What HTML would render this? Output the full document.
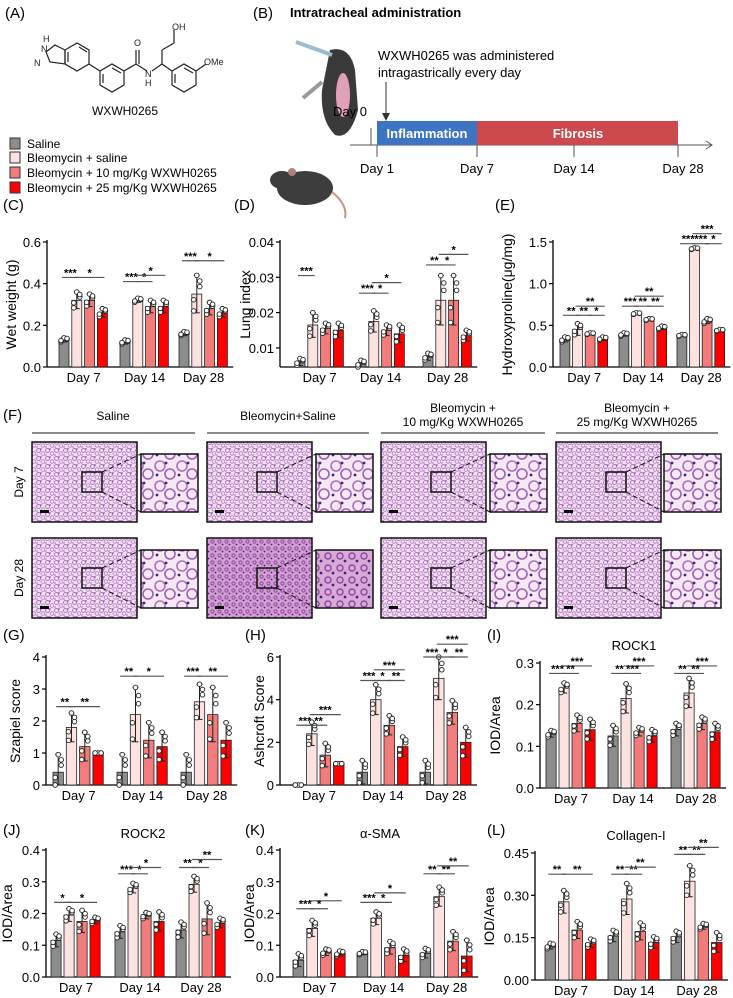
<!DOCTYPE html>
<html><head><meta charset="utf-8"><style>
html,body{margin:0;padding:0;background:#fff;}
svg{display:block;font-family:"Liberation Sans",sans-serif;}
</style></head><body>
<svg id="fig" width="733" height="998" viewBox="0 0 733 998" xmlns="http://www.w3.org/2000/svg">
<defs>
<pattern id="tis" width="9" height="8" patternUnits="userSpaceOnUse">
<rect width="9" height="8" fill="#f2e0f0"/>
<circle cx="2.5" cy="2.5" r="2" fill="none" stroke="#b070c0" stroke-width="0.9"/>
<circle cx="7" cy="5.5" r="1.8" fill="none" stroke="#c080c8" stroke-width="0.9"/>
<circle cx="5" cy="1" r="0.7" fill="#5030a0"/><circle cx="1" cy="7" r="0.6" fill="#5030a0"/>
</pattern>
<pattern id="tisd" width="7" height="7" patternUnits="userSpaceOnUse">
<rect width="7" height="7" fill="#d49ed2"/>
<circle cx="2.5" cy="2.5" r="1.6" fill="none" stroke="#8a4aa0" stroke-width="1"/>
<circle cx="5.5" cy="5.5" r="0.9" fill="#402080"/>
</pattern>
<pattern id="tisz" width="22" height="20" patternUnits="userSpaceOnUse">
<rect width="22" height="20" fill="#f6e8f4"/>
<circle cx="6" cy="6" r="5" fill="none" stroke="#b070c0" stroke-width="1.6"/>
<circle cx="16" cy="14" r="5" fill="none" stroke="#a060b8" stroke-width="1.6"/>
<circle cx="12" cy="3" r="1.4" fill="#402080"/><circle cx="3" cy="15" r="1.4" fill="#402080"/>
</pattern>
<pattern id="tiszd" width="12" height="12" patternUnits="userSpaceOnUse">
<rect width="12" height="12" fill="#d8a8d6"/>
<circle cx="4" cy="4" r="3" fill="none" stroke="#8a4aa0" stroke-width="1.4"/>
<circle cx="9" cy="9" r="1.4" fill="#402080"/>
</pattern>
</defs>
<g id="static">
<!-- (A) -->
<text x="5" y="18" font-size="15">(A)</text>
<g stroke="#222" stroke-width="1.2" fill="none">
<polygon points="65,50 77,43 89,50 89,64 77,71 65,64"/>
<line x1="68" y1="52" x2="68" y2="62"/><line x1="79" y1="47" x2="87" y2="52"/>
<polygon points="65,50 55,45 46,52 50,62 65,64" />
<line x1="89" y1="64" x2="100" y2="71"/>
<polygon points="100,71 112,64 124,71 124,85 112,92 100,85"/>
<line x1="103" y1="74" x2="103" y2="83"/><line x1="112" y1="68" x2="121" y2="73"/>
<line x1="124" y1="71" x2="136" y2="64"/><line x1="136" y1="64" x2="136" y2="50"/><line x1="139" y1="64" x2="139" y2="50"/>
<line x1="136" y1="64" x2="147" y2="71"/><line x1="152" y1="71" x2="162" y2="64"/>
<line x1="162" y1="64" x2="162" y2="50"/><line x1="162" y1="50" x2="174" y2="43"/><line x1="174" y1="43" x2="174" y2="30"/>
<line x1="162" y1="64" x2="172" y2="71"/>
<polygon points="172,71 184,64 196,71 196,85 184,92 172,85"/>
<line x1="175" y1="74" x2="175" y2="83"/><line x1="184" y1="68" x2="193" y2="73"/>
<line x1="196" y1="71" x2="206" y2="64"/>
</g>
<g font-size="9" fill="#222">
<text x="43" y="42">H</text><text x="41" y="52">N</text><text x="34" y="66">N</text>
<text x="134" y="46">O</text><text x="145" y="77">N</text><text x="145" y="86">H</text>
<text x="172" y="30">OH</text><text x="204" y="65">OMe</text>
</g>
<text x="125" y="115" font-size="12" text-anchor="middle">WXWH0265</text>
<g font-size="12">
<rect x="10" y="138" width="10" height="11" fill="#8c8c8c" stroke="#333"/>
<text x="27" y="148">Saline</text>
<rect x="10" y="152" width="10" height="11" fill="#fde2e2" stroke="#333"/>
<text x="27" y="162">Bleomycin + saline</text>
<rect x="10" y="167" width="10" height="11" fill="#f27c7c" stroke="#333"/>
<text x="27" y="177">Bleomycin + 10 mg/Kg WXWH0265</text>
<rect x="10" y="182" width="10" height="11" fill="#ff0000" stroke="#333"/>
<text x="27" y="192">Bleomycin + 25 mg/Kg WXWH0265</text>
</g>
<!-- (B) -->
<text x="253" y="18" font-size="15">(B)</text>
<text x="290" y="17" font-size="13" font-weight="bold">Intratracheal administration</text>
<g>
<path d="M330 50 Q350 45 355 70 L358 110 Q350 140 335 135 Q320 120 322 90 Z" fill="#3a3a3a"/>
<ellipse cx="343" cy="95" rx="7" ry="22" fill="#e0a0b8"/>
<line x1="296" y1="42" x2="332" y2="55" stroke="#9bbccc" stroke-width="4"/>
<line x1="303" y1="98" x2="322" y2="82" stroke="#999" stroke-width="4"/>
</g>
<g>
<ellipse cx="305" cy="188" rx="28" ry="17" fill="#3d3d3d"/>
<ellipse cx="282" cy="180" rx="12" ry="9" fill="#3d3d3d"/>
<ellipse cx="292" cy="172" rx="4" ry="4" fill="#b08080"/>
<path d="M332 192 Q348 205 345 218" stroke="#c89080" stroke-width="2" fill="none"/>
</g>
<text x="378" y="60" font-size="13">WXWH0265 was administered</text>
<text x="378" y="77" font-size="13">intragastrically every day</text>
<line x1="386" y1="82" x2="386" y2="118" stroke="#333"/><polygon points="382,113 390,113 386,121" fill="#333"/>
<text x="333" y="116" font-size="13">Day 0</text>
<line x1="350" y1="145" x2="712" y2="145" stroke="#555"/><polyline points="706,141 712,145 706,149" fill="none" stroke="#555"/>
<line x1="371" y1="128" x2="371" y2="145" stroke="#555"/>
<rect x="377" y="121" width="100" height="24" fill="#3f74c4"/>
<rect x="477" y="121" width="201" height="24" fill="#cc4a4d"/>
<text x="427" y="138" font-size="13" font-weight="bold" fill="#fff" text-anchor="middle">Inflammation</text>
<text x="578" y="138" font-size="13" font-weight="bold" fill="#fff" text-anchor="middle">Fibrosis</text>
<g stroke="#555"><line x1="377" y1="145" x2="377" y2="157"/><line x1="477" y1="145" x2="477" y2="157"/><line x1="574" y1="145" x2="574" y2="157"/><line x1="678" y1="145" x2="678" y2="157"/></g>
<g font-size="13" text-anchor="middle"><text x="377" y="173">Day 1</text><text x="477" y="173">Day 7</text><text x="574" y="173">Day 14</text><text x="683" y="173">Day 28</text></g>
<!-- (F) -->
<text x="3" y="420" font-size="15">(F)</text>
<g font-size="12" text-anchor="middle">
<text x="113" y="420">Saline</text><text x="288" y="420">Bleomycin+Saline</text>
<text x="463" y="412">Bleomycin +</text><text x="463" y="426">10 mg/Kg WXWH0265</text>
<text x="637" y="412">Bleomycin +</text><text x="637" y="426">25 mg/Kg WXWH0265</text>
</g>
<g stroke="#444" stroke-width="1.3"><line x1="32" y1="433" x2="195" y2="433"/><line x1="207" y1="433" x2="369" y2="433"/><line x1="381" y1="433" x2="545" y2="433"/><line x1="556" y1="433" x2="718" y2="433"/></g>
<text transform="translate(23,482) rotate(-90)" font-size="12" text-anchor="middle">Day 7</text>
<text transform="translate(23,578) rotate(-90)" font-size="12" text-anchor="middle">Day 28</text>
<g id="histo"></g>
</g>
<g id="charts"></g>
</svg>
<script>
const NS="http://www.w3.org/2000/svg";
const COLORS=["#8c8c8c","#fde2e2","#f27c7c","#ff0000"];
const DAYS=["Day 7","Day 14","Day 28"];
function mk(tag,attrs,parent,txt){const e=document.createElementNS(NS,tag);for(const k in attrs)e.setAttribute(k,attrs[k]);if(txt!==undefined)e.textContent=txt;parent.appendChild(e);return e;}

// histology
const histo=document.getElementById('histo');
const hcols=[[32,141],[207,316],[381,490],[556,664]];
const hrows=[[442,454],[538,550]];
hrows.forEach((r,ri)=>hcols.forEach((c,ci)=>{
  const dark=(ri===1&&ci===1);
  const big=mk('rect',{x:c[0],y:r[0],width:105,height:80,fill:dark?'url(#tisd)':'url(#tis)',stroke:'#111','stroke-width':1.5},histo);
  
  
  const bx=c[0]+50,by=r[0]+30;
  mk('rect',{x:bx,y:by,width:20,height:20,fill:'none',stroke:'#111','stroke-width':1.5},histo);
  mk('line',{x1:bx+20,y1:by,x2:c[1],y2:r[1],stroke:'#111','stroke-dasharray':'5,3'},histo);
  mk('line',{x1:bx+20,y1:by+20,x2:c[1],y2:r[1]+58,stroke:'#111','stroke-dasharray':'5,3'},histo);
  const ins=mk('rect',{x:c[1],y:r[1],width:57,height:58,fill:dark?'url(#tiszd)':'url(#tisz)',stroke:'#111','stroke-width':1.5},histo);
  
  
  mk('rect',{x:c[0]+8,y:r[0]+68,width:9,height:3,fill:'#000'},histo);
}));

// ---- chart data ----
const C_mean=[[0.13,0.32,0.32,0.26],[0.12,0.32,0.29,0.29],[0.16,0.35,0.28,0.26]];
const C_sd=[[0.01,0.04,0.03,0.02],[0.01,0.01,0.03,0.03],[0.01,0.09,0.03,0.02]];
const C_ticks=[0,0.2,0.4,0.6];
const C_sig=[[0,0,1,0.43,"***"],[0,1,3,0.43,"*"],[1,0,1,0.41,"***"],[1,1,2,0.41,"*"],[1,1,3,0.44,"*"],[2,0,1,0.51,"***"],[2,1,3,0.51,"*"]];
const D_mean=[[0.006,0.0165,0.0155,0.015],[0.0055,0.0175,0.015,0.014],[0.0075,0.0235,0.0235,0.0135]];
const D_sd=[[0.001,0.0035,0.0015,0.002],[0.001,0.003,0.0015,0.0025],[0.001,0.007,0.007,0.0015]];
const D_ticks=[0.01,0.02,0.03,0.04];
const D_sig=[[0,0,1,0.0305,"***"],[1,0,1,0.0255,"***"],[1,1,2,0.0255,"*"],[1,1,3,0.0285,"*"],[2,0,1,0.0335,"**"],[2,1,2,0.0335,"*"],[2,1,3,0.0365,"*"]];
const E_mean=[[0.33,0.45,0.40,0.34],[0.39,0.64,0.57,0.47],[0.38,1.42,0.55,0.44]];
const E_sd=[[0.03,0.07,0.01,0.02],[0.02,0.01,0.01,0.02],[0.01,0.01,0.03,0.01]];
const E_ticks=[0,0.5,1.0,1.5];
const E_sig=[[0,0,1,0.62,"**"],[0,1,2,0.62,"**"],[0,2,3,0.62,"*"],[0,1,3,0.73,"**"],[1,0,1,0.73,"***"],[1,1,2,0.73,"**"],[1,2,3,0.73,"**"],[1,1,3,0.85,"**"],[2,0,1,1.48,"***"],[2,1,2,1.48,"***"],[2,2,3,1.48,"*"],[2,1,3,1.6,"***"]];
const G_mean=[[0.4,1.8,1.2,1.0],[0.4,2.2,1.4,1.2],[0.4,2.6,2.2,1.4]];
const G_sd=[[0.55,0.45,0.45,0],[0.55,0.85,0.55,0.45],[0.55,0.55,0.85,0.55]];
const G_ticks=[0,1,2,3,4];
const G_sig=[[0,0,1,2.45,"**"],[0,1,3,2.45,"**"],[1,0,1,3.4,"**"],[1,1,3,3.4,"*"],[2,0,1,3.4,"***"],[2,1,3,3.4,"**"]];
const H_mean=[[0,2.4,1.4,1.0],[0.6,4.0,2.8,1.8],[0.6,5.0,3.4,2.0]];
const H_sd=[[0,0.55,0.55,0],[0.55,0.7,0.45,0.45],[0.55,1.0,0.55,0.7]];
const H_ticks=[0,2,4,6];
const H_sig=[[0,0,1,2.8,"***"],[0,1,2,2.8,"**"],[0,1,3,3.3,"***"],[1,0,1,4.9,"***"],[1,1,2,4.9,"*"],[1,2,3,4.9,"**"],[1,1,3,5.4,"***"],[2,0,1,6.0,"***"],[2,1,2,6.0,"*"],[2,2,3,6.0,"**"],[2,1,3,6.6,"***"]];
const I_mean=[[0.13,0.24,0.155,0.14],[0.125,0.215,0.135,0.125],[0.14,0.228,0.155,0.135]];
const I_sd=[[0.008,0.012,0.02,0.025],[0.025,0.035,0.01,0.015],[0.015,0.035,0.015,0.02]];
const I_ticks=[0,0.1,0.2,0.3];
const I_sig=[[0,0,1,0.275,"***"],[0,1,2,0.275,"**"],[0,1,3,0.293,"***"],[1,0,1,0.275,"**"],[1,1,2,0.275,"***"],[1,1,3,0.293,"***"],[2,0,1,0.275,"**"],[2,1,2,0.275,"**"],[2,1,3,0.293,"***"]];
const J_mean=[[0.115,0.195,0.175,0.178],[0.142,0.28,0.193,0.175],[0.148,0.292,0.183,0.17]];
const J_sd=[[0.02,0.02,0.035,0.01],[0.02,0.015,0.01,0.03],[0.025,0.025,0.05,0.015]];
const J_ticks=[0,0.1,0.2,0.3,0.4];
const J_sig=[[0,0,1,0.235,"*"],[0,1,3,0.235,"*"],[1,0,1,0.325,"***"],[1,1,2,0.325,"*"],[1,1,3,0.345,"*"],[2,0,1,0.345,"**"],[2,1,2,0.345,"*"],[2,1,3,0.37,"**"]];
const K_mean=[[0.053,0.153,0.078,0.074],[0.075,0.185,0.092,0.068],[0.075,0.253,0.113,0.066]];
const K_sd=[[0.02,0.025,0.01,0.008],[0.005,0.02,0.02,0.02],[0.015,0.03,0.03,0.05]];
const K_ticks=[0,0.1,0.2,0.3,0.4];
const K_sig=[[0,0,1,0.215,"***"],[0,1,2,0.215,"*"],[0,1,3,0.24,"*"],[1,0,1,0.235,"***"],[1,1,2,0.235,"*"],[1,1,3,0.265,"*"],[2,0,1,0.325,"**"],[2,1,2,0.325,"**"],[2,1,3,0.35,"**"]];
const L_mean=[[0.12,0.277,0.177,0.13],[0.156,0.287,0.172,0.133],[0.153,0.35,0.19,0.133]];
const L_sd=[[0.01,0.04,0.03,0.015],[0.02,0.055,0.03,0.02],[0.02,0.055,0.01,0.035]];
const L_ticks=[0,0.15,0.30,0.45];
const L_sig=[[0,0,1,0.375,"**"],[0,1,3,0.375,"**"],[1,0,1,0.375,"**"],[1,1,2,0.375,"**"],[1,1,3,0.4,"**"],[2,0,1,0.445,"**"],[2,1,2,0.445,"**"],[2,1,3,0.47,"**"]];

const panels=[
 {id:'c',lab:'(C)',lx:3,ly:210,ax:47,yTop:242,yZero:367,min:0,max:0.6,dec:1,mean:C_mean,sd:C_sd,ticks:C_ticks,sig:C_sig,g0:[59,120,179],bp:12.8,yt:'Wet weight (g)',ytx:16,title:null},
 {id:'d',lab:'(D)',lx:234,ly:210,ax:280,yTop:242,yZero:367,min:0.0046,max:0.04,dec:2,mean:D_mean,sd:D_sd,ticks:D_ticks,sig:D_sig,g0:[295,356,423],bp:12.8,yt:'Lung index',ytx:250,title:null},
 {id:'e',lab:'(E)',lx:495,ly:210,ax:553,yTop:242,yZero:367,min:0,max:1.5,dec:1,mean:E_mean,sd:E_sd,ticks:E_ticks,sig:E_sig,g0:[560,619,677],bp:12.6,yt:'Hydroxyproline(μg/mg)',ytx:512,title:null},
 {id:'g',lab:'(G)',lx:3,ly:640,ax:46,yTop:657,yZero:785,min:0,max:4,dec:0,mean:G_mean,sd:G_sd,ticks:G_ticks,sig:G_sig,g0:[53,117,181],bp:13.3,yt:'Szapiel score',ytx:20,title:null},
 {id:'h',lab:'(H)',lx:245,ly:640,ax:280,yTop:657,yZero:785,min:0,max:6,dec:0,mean:H_mean,sd:H_sd,ticks:H_ticks,sig:H_sig,g0:[293,357,420],bp:13.5,yt:'Ashcroft  Score',ytx:264,title:null},
 {id:'i',lab:'(I)',lx:487,ly:640,ax:540,yTop:663,yZero:788,min:0,max:0.3,dec:1,mean:I_mean,sd:I_sd,ticks:I_ticks,sig:I_sig,g0:[546,608,671],bp:13,yt:'IOD/Area',ytx:500,title:'ROCK1',tx:634,ty:650},
 {id:'j',lab:'(J)',lx:3,ly:835,ax:46,yTop:850,yZero:977,min:0,max:0.4,dec:1,mean:J_mean,sd:J_sd,ticks:J_ticks,sig:J_sig,g0:[51,115,176],bp:13,yt:'IOD/Area',ytx:12,title:'ROCK2',tx:143,ty:838},
 {id:'k',lab:'(K)',lx:245,ly:835,ax:280,yTop:850,yZero:977,min:0,max:0.4,dec:1,mean:K_mean,sd:K_sd,ticks:K_ticks,sig:K_sig,g0:[293,357,420],bp:13.8,yt:'IOD/Area',ytx:254,title:'α-SMA',tx:380,ty:838},
 {id:'l',lab:'(L)',lx:487,ly:835,ax:535,yTop:853,yZero:980,min:0,max:0.45,dec:2,mean:L_mean,sd:L_sd,ticks:L_ticks,sig:L_sig,g0:[545,608,671],bp:13.5,yt:'IOD/Area',ytx:494,title:'Collagen-I',tx:636,ty:840}
];
const DOTX=[-3,3,0,-3,3], DOTY=[-0.9,0.4,1,-0.3,0.7];
const charts=document.getElementById('charts');
panels.forEach(p=>{
  const g=mk('g',{},charts);
  
  
  const y=v=>p.yZero-(v-p.min)/(p.max-p.min)*(p.yZero-p.yTop);
  const bw=p.bp*0.78;
  const pl=mk('text',{x:p.lx,y:p.ly,'font-size':15},g,p.lab);
  
  
  if(p.title){const t=mk('text',{x:p.tx,y:p.ty,'font-size':13,'text-anchor':'middle'},g,p.title);
    
    }
  const at=mk('text',{transform:`translate(${p.ytx},${(p.yTop+p.yZero)/2}) rotate(-90)`,'font-size':14,'text-anchor':'middle'},g,p.yt);
  
  
  const xEnd=p.g0[2]+4*p.bp+3;
  mk('line',{x1:p.ax,y1:p.yTop-2,x2:p.ax,y2:p.yZero,stroke:'#000','stroke-width':1.3},g);
  mk('line',{x1:p.ax,y1:p.yZero,x2:xEnd,y2:p.yZero,stroke:'#000','stroke-width':1.3},g);
  p.ticks.forEach(t=>{
    mk('line',{x1:p.ax-4,y1:y(t),x2:p.ax,y2:y(t),stroke:'#000','stroke-width':1.2},g);
    const tl=mk('text',{x:p.ax-6,y:y(t)+5,'font-size':13,'text-anchor':'end'},g,t.toFixed(p.dec));
    
    
  });
  p.mean.forEach((grp,gi)=>{
    const gx=p.g0[gi];
    const dl=mk('text',{x:gx+2*p.bp-1,y:p.yZero+15,'font-size':13,'text-anchor':'middle'},g,DAYS[gi]);
    
    
    grp.forEach((v,bi)=>{
      const x=gx+bi*p.bp, cx=x+bw/2;
      const top=y(Math.max(v,p.min));
      const r=mk('rect',{x:x,y:top,width:bw,height:Math.max(0,p.yZero-top),fill:COLORS[bi],stroke:'#222','stroke-width':0.8},g);
      
      
      const s=p.sd[gi][bi];
      if(s>0){
        mk('line',{x1:cx,y1:y(v+s),x2:cx,y2:y(Math.max(p.min,v-s)),stroke:'#222','stroke-width':1},g);
        mk('line',{x1:cx-3,y1:y(v+s),x2:cx+3,y2:y(v+s),stroke:'#222','stroke-width':1},g);
        mk('line',{x1:cx-3,y1:y(Math.max(p.min,v-s)),x2:cx+3,y2:y(Math.max(p.min,v-s)),stroke:'#222','stroke-width':1},g);
      }
      for(let k=0;k<5;k++){
        const dv=Math.max(p.min,v+DOTY[k]*s);
        mk('circle',{cx:cx+DOTX[k],cy:y(dv),r:2.3,fill:'#fff',stroke:'#222','stroke-width':0.9},g);
      }
    });
  });
  p.sig.forEach(s=>{
    const gx=p.g0[s[0]];
    const x1=gx+s[1]*p.bp+bw/2-3, x2=gx+s[2]*p.bp+bw/2+3;
    const yy=y(s[3]);
    mk('line',{x1:x1+1,y1:yy,x2:x2-1,y2:yy,stroke:'#555','stroke-width':1.2},g);
    const st=mk('text',{x:(x1+x2)/2,y:yy-1,'font-size':11,'font-weight':'bold','text-anchor':'middle'},g,s[4]);
    
    
  });
});
</script>
</body></html>
